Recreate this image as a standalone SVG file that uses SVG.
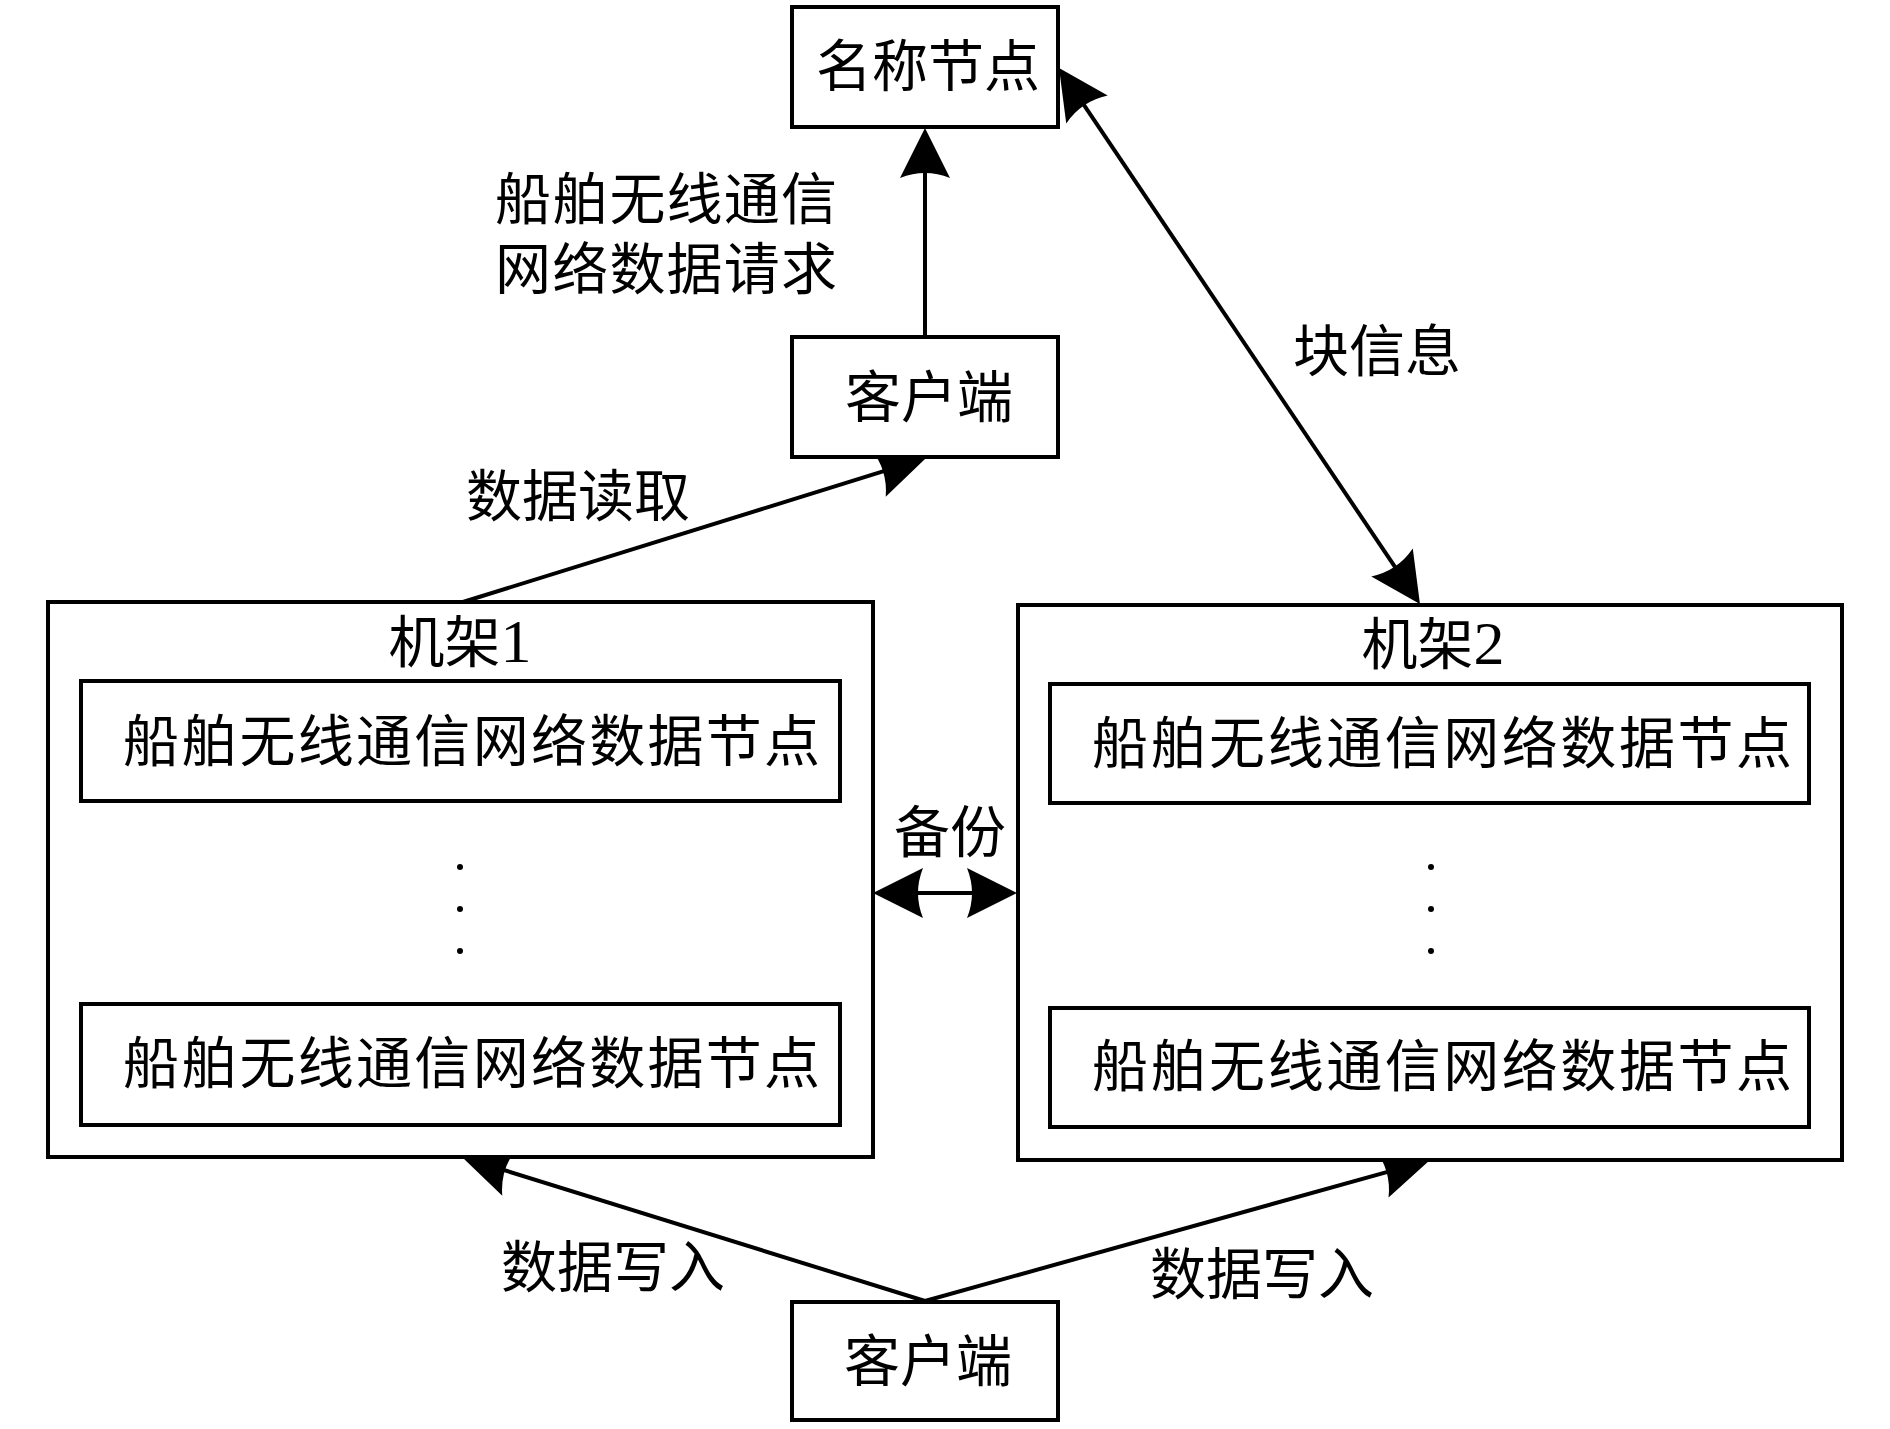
<svg xmlns="http://www.w3.org/2000/svg" width="1890" height="1429" viewBox="0 0 1890 1429">
<style>
.box{fill:#fff;stroke:#000;stroke-width:4}
.t{font-family:"Liberation Serif","Noto Sans CJK SC",serif;font-size:56px;fill:#000}
.m{text-anchor:middle}
.d{font-size:62px}
.ln{stroke:#000;stroke-width:4;fill:none}
.dot{fill:#000}
</style>
<defs>
<marker id="ah" markerUnits="userSpaceOnUse" viewBox="-50 -25 50 50" refX="-30" refY="0" markerWidth="50" markerHeight="50" orient="auto-start-reverse" overflow="visible">
<path d="M0,0 L-50,-25 Q-40,0 -50,25 Z" fill="#000"/>
</marker>
</defs>
<rect width="1890" height="1429" fill="#fff"/>
<g id="connectors">
<line class="ln" x1="925" y1="337" x2="925" y2="158" marker-end="url(#ah)"/>
<line class="ln" x1="463" y1="602" x2="897.4" y2="466.9" marker-end="url(#ah)"/>
<line class="ln" x1="1075.8" y1="92.9" x2="1403.2" y2="579.1" marker-start="url(#ah)" marker-end="url(#ah)"/>
<line class="ln" x1="903" y1="893" x2="987" y2="893" marker-start="url(#ah)" marker-end="url(#ah)"/>
<line class="ln" x1="925" y1="1301" x2="490.6" y2="1165.9" marker-end="url(#ah)"/>
<line class="ln" x1="925" y1="1301" x2="1401.1" y2="1168.1" marker-end="url(#ah)"/>
</g>
<g id="labels">
<text class="t m" x="666" y="219" textLength="342">船舶无线通信</text>
<text class="t m" x="666" y="289" textLength="342">网络数据请求</text>
<text class="t m" x="578" y="516">数据读取</text>
<text class="t m" x="1377" y="371">块信息</text>
<text class="t m" x="950" y="852">备份</text>
<text class="t m" x="613" y="1287">数据写入</text>
<text class="t m" x="1262" y="1294">数据写入</text>
</g>
<g id="namenode">
<rect class="box" x="792" y="7" width="266" height="120"/>
<text class="t m" x="928" y="86">名称节点</text>
</g>
<g id="client-top">
<rect class="box" x="792" y="337" width="266" height="120"/>
<text class="t m" x="929" y="417">客户端</text>
</g>
<g id="rack1">
<rect class="box" x="48" y="602" width="825" height="555"/>
<text class="t m" x="460" y="662">机架<tspan class="d">1</tspan></text>
<g id="rack1-node1">
<rect class="box" x="81" y="681" width="759" height="120"/>
<text class="t" x="123" y="761" textLength="697">船舶无线通信网络数据节点</text>
</g>
<circle class="dot" cx="460" cy="867" r="3"/>
<circle class="dot" cx="460" cy="909" r="3"/>
<circle class="dot" cx="460" cy="951" r="3"/>
<g id="rack1-node2">
<rect class="box" x="81" y="1004" width="759" height="121"/>
<text class="t" x="123" y="1083" textLength="697">船舶无线通信网络数据节点</text>
</g>
</g>
<g id="rack2">
<rect class="box" x="1018" y="605" width="824" height="555"/>
<text class="t m" x="1433" y="664">机架<tspan class="d">2</tspan></text>
<g id="rack2-node1">
<rect class="box" x="1050" y="684" width="759" height="119"/>
<text class="t" x="1092" y="763" textLength="700">船舶无线通信网络数据节点</text>
</g>
<circle class="dot" cx="1431" cy="867" r="3"/>
<circle class="dot" cx="1431" cy="909" r="3"/>
<circle class="dot" cx="1431" cy="951" r="3"/>
<g id="rack2-node2">
<rect class="box" x="1050" y="1008" width="759" height="119"/>
<text class="t" x="1092" y="1086" textLength="700">船舶无线通信网络数据节点</text>
</g>
</g>
<g id="client-bottom">
<rect class="box" x="792" y="1302" width="266" height="118"/>
<text class="t m" x="928" y="1381">客户端</text>
</g>
</svg>
